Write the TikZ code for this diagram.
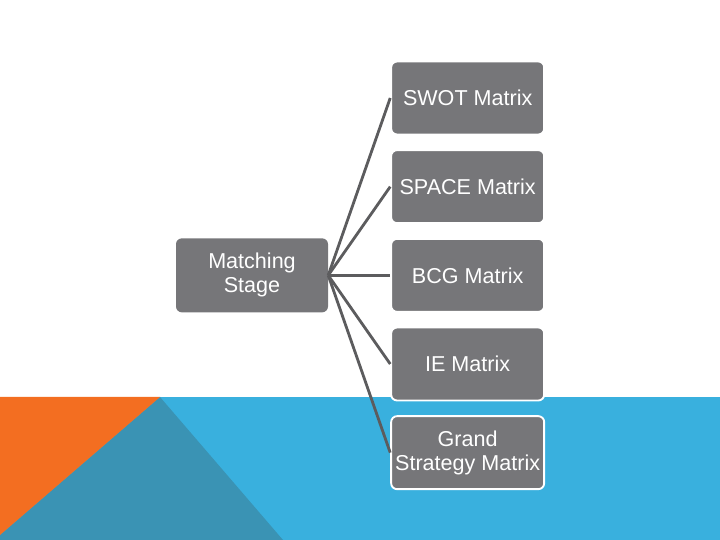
\documentclass[tikz,border=0pt]{standalone}
\usepackage{fontspec}
\setmainfont{Liberation Sans}
\usepackage{xcolor}
\usepackage{tikz}
\usetikzlibrary{positioning}
\definecolor{boxgray}{RGB}{118,118,121}
\definecolor{linkgray}{RGB}{92,92,94}
\definecolor{bandblue}{RGB}{57,176,222}
\definecolor{bandteal}{RGB}{58,147,180}
\definecolor{bandorange}{RGB}{243,110,33}
\tikzset{
  stage/.style={
    rectangle, rounded corners=5pt, fill=boxgray, text=white,
    minimum width=4.56cm, minimum height=2.22cm, inner sep=2pt,
    align=center, font=\fontsize{18.4}{20.6}\selectfont
  },
  matrixbox/.style={stage, draw=white, line width=1.6pt,
    minimum width=4.59cm, minimum height=2.19cm},
  link/.style={draw=linkgray, line width=2.4pt},
}
\begin{document}
\begin{tikzpicture}[node distance=2.66cm, on grid]
  \useasboundingbox (0,0) rectangle (21.6,16.2);
  % background band
  \fill[bandblue] (0,0) rectangle (21.6,4.29);
  \fill[bandteal] (4.8,4.29) -- (0,0.15) -- (0,0) -- (8.49,0) -- cycle;
  \fill[bandorange] (0,4.29) -- (4.8,4.29) -- (0,0.15) -- cycle;

  \node[matrixbox] (swot) at (14.03,13.26) {SWOT Matrix};
  \node[matrixbox, below=of swot] (space) {SPACE Matrix};
  \node[matrixbox, below=of space] (bcg) {BCG Matrix};
  \node[matrixbox, below=of bcg] (ie) {IE Matrix};
  \node[matrixbox, below=of ie] (grand) {Grand\\Strategy Matrix};
  \node[stage, left=6.47cm of bcg] (match) {Matching\\Stage};

  \foreach \n in {swot,space,bcg,ie,grand}
    \draw[link] (match.east) -- (\n.west);
\end{tikzpicture}
\end{document}
